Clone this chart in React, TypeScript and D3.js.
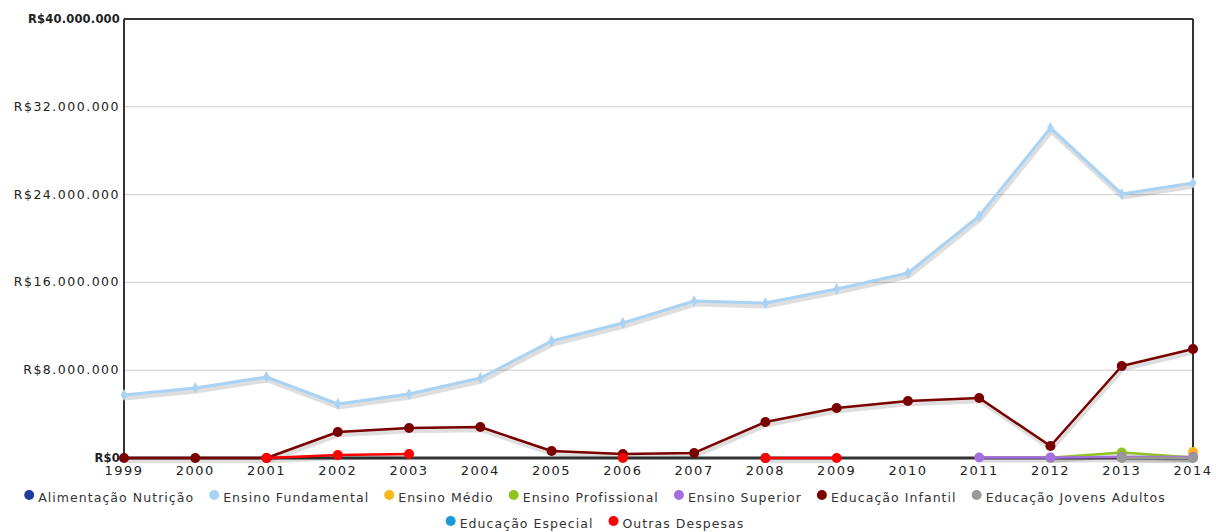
import React, { useEffect, useRef } from "react";
import * as d3 from "d3";

const years = [1999, 2000, 2001, 2002, 2003, 2004, 2005, 2006, 2007, 2008, 2009, 2010, 2011, 2012, 2013, 2014];

const alimentacaoNutricao = [null, null, null, null, null, null, null, null, null, 0, null, null, null, null, null, null];
const ensinoFundamental = [5740000, 6380000, 7380000, 4920000, 5830000, 7290000, 10660000, 12300000, 14300000, 14120000, 15400000, 16860000, 22050000, 30070000, 24050000, 25060000];
const ensinoMedio = [null, null, null, null, null, null, null, null, null, null, null, null, null, null, null, 550000];
const ensinoProfissional = [null, null, null, null, null, null, null, null, null, null, null, null, null, 30000, 500000, 50000];
const ensinoSuperior = [null, null, null, null, null, null, null, null, null, null, null, null, 40000, 40000, 80000, 80000];
const educacaoInfantil = [0, 0, 0, 2370000, 2730000, 2820000, 640000, 360000, 460000, 3280000, 4560000, 5190000, 5470000, 1090000, 8380000, 9930000];
const educacaoJovensAdultos = [null, null, null, null, null, null, null, null, null, null, null, null, null, null, 0, 0];
const educacaoEspecial = [null, null, null, null, null, null, null, null, null, null, null, null, null, null, null, null];
const outrasDespesas = [null, null, 0, 270000, 360000, null, null, 0, null, 0, 0, null, null, null, null, null];

const seriesNames = [
  "Alimentação Nutrição",
  "Ensino Fundamental",
  "Ensino Médio",
  "Ensino Profissional",
  "Ensino Superior",
  "Educação Infantil",
  "Educação Jovens Adultos",
  "Educação Especial",
  "Outras Despesas",
];
const seriesValues = [
  alimentacaoNutricao,
  ensinoFundamental,
  ensinoMedio,
  ensinoProfissional,
  ensinoSuperior,
  educacaoInfantil,
  educacaoJovensAdultos,
  educacaoEspecial,
  outrasDespesas,
];
const seriesColors = ["#1f3c9b", "#a9d3f5", "#f7b718", "#8fc31f", "#a66fde", "#7a0000", "#999999", "#1a9ad6", "#ff0000"];
const yTicks = [0, 8000000, 16000000, 24000000, 32000000, 40000000];

const W = 1216;
const H = 532;
const M = { left: 124, right: 23, top: 19, bottom: 74 };

function fmt(v: number) {
  return "R$" + d3.format(",")(v).replace(/,/g, ".");
}

export default function App() {
  const ref = useRef<SVGSVGElement>(null);
  useEffect(() => {
    const svg = d3.select(ref.current);
    svg.selectAll("*").remove();
    const x = d3.scaleLinear().domain([years[0], years[years.length - 1]]).range([M.left, W - M.right]);
    const y = d3.scaleLinear().domain([0, 40000000]).range([H - M.bottom, M.top]);
    const font = "'DejaVu Sans', Verdana, sans-serif";

    // grid
    svg.append("g").selectAll("line").data(yTicks.slice(1, -1)).join("line")
      .attr("x1", M.left).attr("x2", W - M.right)
      .attr("y1", (d) => y(d)).attr("y2", (d) => y(d))
      .attr("stroke", "#cccccc").attr("stroke-width", 1);

    // frame
    const fr = svg.append("g").attr("stroke", "#333").attr("stroke-width", 2).attr("fill", "none");
    fr.append("line").attr("x1", M.left).attr("x2", W - M.right).attr("y1", y(40000000)).attr("y2", y(40000000));
    fr.append("line").attr("x1", W - M.right).attr("x2", W - M.right).attr("y1", y(40000000)).attr("y2", y(0));
    fr.append("line").attr("x1", M.left).attr("x2", M.left).attr("y1", y(40000000)).attr("y2", y(0));
    fr.append("line").attr("x1", M.left - 1).attr("x2", W - M.right + 1).attr("y1", y(0)).attr("y2", y(0)).attr("stroke-width", 3);

    // y labels
    const isEdge = (i: number) => i === 0 || i === yTicks.length - 1;
    svg.append("g").selectAll("text").data(yTicks).join("text")
      .attr("x", M.left - 4).attr("y", (d) => y(d) + 4)
      .attr("text-anchor", "end")
      .attr("font-family", font)
      .attr("font-size", (d, i) => (isEdge(i) ? 11.5 : 12.5))
      .attr("font-weight", (d, i) => (isEdge(i) ? "bold" : "normal"))
      .attr("letter-spacing", (d, i) => (isEdge(i) ? 0.2 : 1.5))
      .attr("fill", "#222")
      .text((d) => fmt(d));

    // x labels
    svg.append("g").selectAll("text").data(years).join("text")
      .attr("x", (d) => x(d)).attr("y", H - M.bottom + 17)
      .attr("text-anchor", "middle")
      .attr("font-family", font).attr("font-size", 13).attr("letter-spacing", 1.5)
      .attr("fill", "#222")
      .text((d) => String(d));

    // series
    seriesValues.forEach((vals, si) => {
      const color = seriesColors[si];
      const pts = years.map((yr, i) => ({ yr, v: vals[i] as number | null }));
      const line = d3.line<{ yr: number; v: number | null }>()
        .defined((d) => d.v !== null)
        .x((d) => x(d.yr)).y((d) => y(d.v as number));
      const lw = si === 1 ? 3 : 2.5;
      const g = svg.append("g");
      g.append("path").attr("d", line(pts) || "").attr("fill", "none")
        .attr("stroke", "rgba(0,0,0,0.13)").attr("stroke-width", lw + 3)
        .attr("transform", "translate(1,2.5)").attr("stroke-linejoin", "round");
      g.append("path").attr("d", line(pts) || "").attr("fill", "none")
        .attr("stroke", color).attr("stroke-width", lw).attr("stroke-linejoin", "round");
      const def = pts.filter((d) => d.v !== null);
      if (si === 1) {
        const sym = d3.symbol().type(d3.symbolDiamond).size(40);
        g.selectAll("path.m").data(def).join("path").attr("class", "m")
          .attr("d", sym() || "")
          .attr("transform", (d) => `translate(${x(d.yr)},${y(d.v as number)})`)
          .attr("fill", color);
      } else {
        g.selectAll("circle").data(def).join("circle")
          .attr("cx", (d) => x(d.yr)).attr("cy", (d) => y(d.v as number)).attr("r", 5)
          .attr("fill", color);
      }
    });

    // legend
    const leg = svg.append("g");
    const rows: { items: { i: number; w: number }[]; width: number }[] = [];
    const gap = 15;
    const maxW = 1190;
    const LS = 1.05;
    const temp = leg.append("text").attr("font-family", font).attr("font-size", 12.5).attr("letter-spacing", LS);
    let cur = { items: [] as { i: number; w: number }[], width: 0 };
    seriesNames.forEach((n, i) => {
      temp.text(n);
      const tw = (temp.node() as SVGTextElement).getComputedTextLength();
      const w = 14 + tw;
      const add = (cur.items.length ? gap : 0) + w;
      if (cur.width + add > maxW && cur.items.length) {
        rows.push(cur);
        cur = { items: [], width: 0 };
        cur.items.push({ i, w });
        cur.width = w;
      } else {
        cur.items.push({ i, w });
        cur.width += add;
      }
    });
    rows.push(cur);
    temp.remove();
    const cx = 595;
    rows.forEach((r, ri) => {
      let xx = cx - r.width / 2;
      const yy = 502 + ri * 26;
      r.items.forEach((it) => {
        leg.append("circle").attr("cx", xx + 5).attr("cy", yy - 7).attr("r", 5).attr("fill", seriesColors[it.i]);
        leg.append("text").attr("x", xx + 14).attr("y", yy)
          .attr("font-family", font).attr("font-size", 12.5).attr("letter-spacing", LS)
          .attr("fill", "#333").text(seriesNames[it.i]);
        xx += it.w + gap;
      });
    });
  }, []);
  return (
    <svg ref={ref} width={W} height={H} style={{ position: "absolute", left: 0, top: 0, background: "#fff" }} />
  );
}
